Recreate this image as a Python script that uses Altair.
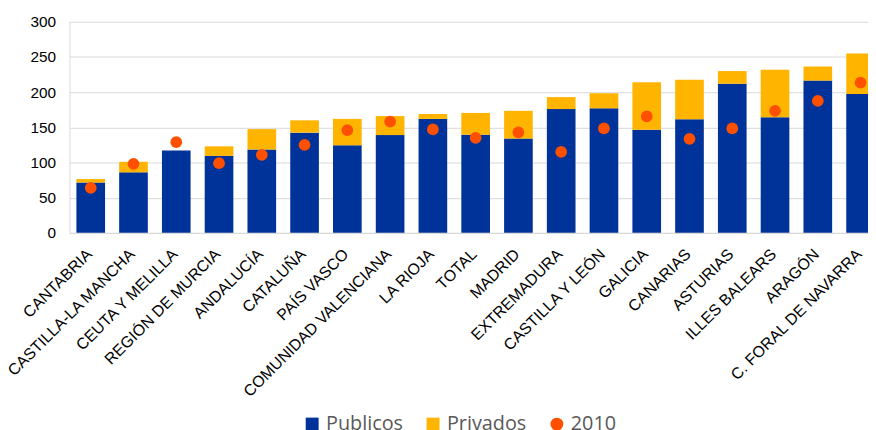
import altair as alt
import pandas as pd

regiones = ["CANTABRIA", "CASTILLA-LA MANCHA", "CEUTA Y MELILLA", "REGIÓN DE MURCIA",
            "ANDALUCÍA", "CATALUÑA", "PAÍS VASCO", "COMUNIDAD VALENCIANA", "LA RIOJA",
            "TOTAL", "MADRID", "EXTREMADURA", "CASTILLA Y LEÓN", "GALICIA", "CANARIAS",
            "ASTURIAS", "ILLES BALEARS", "ARAGÓN", "C. FORAL DE NAVARRA"]
publicos = [71.5, 86, 117, 109.5, 118.5, 142.5, 124.5, 139, 162, 139.5, 134, 176,
            177, 146.5, 161.5, 212, 164.5, 216.5, 197.5]
privados = [5, 15, 0, 13.5, 29, 17.5, 37.5, 27, 7, 31, 39.5, 17, 21.5, 67.5, 56,
            18, 67.5, 20, 57.5]
valores_2010 = [64, 98, 129, 99, 111, 125, 146, 158, 147, 135, 143, 115, 148.5,
                165.5, 133.5, 148.5, 173.5, 187.5, 213.5]
series = ["Publicos", "Privados", "2010"]
colores = ["#003399", "#FFB400", "#FF5000"]
formas = ["square", "square", "circle"]
ticks_y = [0, 50, 100, 150, 200, 250, 300]

rows = []
for i, r in enumerate(regiones):
    rows.append({"region": r, "serie": "Publicos", "valor": publicos[i], "orden": 0})
    rows.append({"region": r, "serie": "Privados", "valor": privados[i], "orden": 1})
bars_df = pd.DataFrame(rows)
pts_df = pd.DataFrame({"region": regiones, "serie": ["2010"] * len(regiones),
                       "valor": valores_2010})

legend = alt.Legend(orient="none", legendX=235, legendY=396, direction="horizontal",
                    title=None, labelFont="Open Sans", labelFontSize=20,
                    labelColor="#595959", symbolSize=170, symbolStrokeWidth=0,
                    columnPadding=20, labelOffset=4, padding=0)

color = alt.Color("serie:N", scale=alt.Scale(domain=series, range=colores), legend=legend)

x = alt.X("region:N", sort=regiones, title=None,
          scale=alt.Scale(paddingInner=0.33, paddingOuter=0.163),
          axis=alt.Axis(labelAngle=-45, labelFontSize=16, ticks=False, labelPadding=13,
                        labelOffset=-7, labelLimit=400,
                        domainColor="#d9d9d9", grid=False, labelColor="#000000"))
yscale = alt.Scale(domain=[0, 300])
yaxis = alt.Axis(values=ticks_y, labelFontSize=15.5, ticks=False, labelPadding=14,
                 domainColor="#d9d9d9", gridColor="#d9d9d9", labelColor="#000000")

bars = alt.Chart(bars_df).mark_bar().encode(
    x=x,
    y=alt.Y("valor:Q", stack="zero", scale=yscale, axis=yaxis, title=None),
    color=color,
    order=alt.Order("orden:Q"),
)

points = alt.Chart(pts_df).mark_point(filled=True, opacity=1, size=140).encode(
    x=x,
    y=alt.Y("valor:Q", scale=yscale, axis=yaxis, title=None),
    color=color,
    shape=alt.Shape("serie:N", scale=alt.Scale(domain=series, range=formas), legend=legend),
)

chart = alt.layer(bars, points).properties(
    width=820, height=213,
    autosize=alt.AutoSizeParams(type="none"),
    padding={"left": 62, "top": 12, "right": -14, "bottom": 197},
).configure_axis(labelFont="Liberation Sans").configure_view(stroke=None)

chart.save("out.html", embed_options={"renderer": "svg", "actions": False})
